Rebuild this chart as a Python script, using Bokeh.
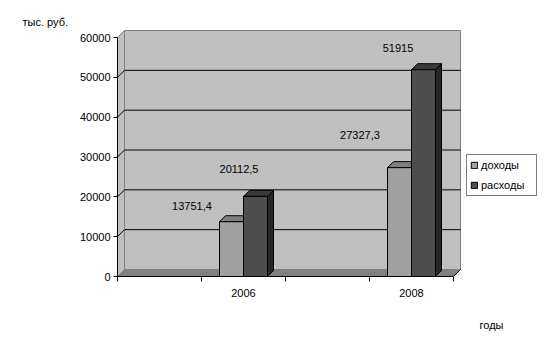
from bokeh.plotting import figure
from bokeh.models import Range1d, FixedTicker, ColumnDataSource, Legend, LegendItem, Title
from bokeh.embed import file_html
from bokeh.resources import INLINE
from bokeh.core.properties import value

# ---------------- data ----------------
years = [2006, 2008]
incomes = [13751.4, 27327.3]      # доходы
expenses = [20112.5, 51915.0]     # расходы
series_names = ["доходы", "расходы"]
y_ticks = [0, 10000, 20000, 30000, 40000, 50000, 60000]
category_edges = [2004.5, 2005.5, 2006.5, 2007.5, 2008.5]
y_title = "тыс. руб."
x_title = "годы"

# ---------------- layout constants (px) ----------------
W, H = 545, 353
FL, FR, FT, FB = 117, 545, 29, 276
CAT_PX = 84
Y_PX = 239
DEPTH = 7
BAR_DEPTH = 6
BAR_PX = 24
FONT = "Liberation Sans"
FS = "11px"

y_max = y_ticks[-1]
x0, x1 = category_edges[0], category_edges[-1]
fw, fh = FR - FL, FB - FT


def dx(n):
    return n / CAT_PX


def dy(n):
    return n * y_max / Y_PX


p = figure(width=W, height=H, x_range=Range1d(x0, x0 + fw / CAT_PX),
           y_range=Range1d(0, y_max * fh / Y_PX),
           output_backend="svg", toolbar_location=None,
           min_border_left=FL, min_border_right=W - FR,
           min_border_top=FT, min_border_bottom=H - FB)
p.outline_line_color = None
p.xgrid.visible = False
p.ygrid.visible = False
p.background_fill_color = "white"
p.border_fill_color = "white"

DX, DY = dx(DEPTH), dy(DEPTH)
WALL = "#c0c0c0"
EDGE = "#808080"

# side wall
p.patch([x0, x0, x0 + DX, x0 + DX], [0, y_max, y_max + DY, DY],
        fill_color=WALL, line_color=EDGE, line_width=1)
# back wall
p.quad(left=[x0 + DX], right=[x1 + DX], bottom=[DY], top=[y_max + DY],
       fill_color=WALL, line_color=EDGE, line_width=1)
# floor
p.patch([x0, x0 + DX, x1 + DX, x1], [0, DY, DY, 0],
        fill_color="#808080", line_color=EDGE, line_width=1)
p.line([x1, x1 + DX], [0, DY], line_color="black", line_width=1)

# gridlines on walls
gxs, gys = [], []
for v in y_ticks[1:-1]:
    gxs.append([x0, x0 + DX, x1 + DX])
    gys.append([v, v + DY, v + DY])
p.multi_line(gxs, gys, line_color="black", line_width=1)

# ---------------- bars ----------------
BW = dx(BAR_PX)
BDX, BDY = dx(BAR_DEPTH), dy(BAR_DEPTH)
styles = [
    dict(front="#a0a0a0", top="#7f7f7f", side="#6a6a6a"),
    dict(front="#4d4d4d", top="#3a3a3a", side="#262626"),
]
front_renderers = []
for si, vals in enumerate([incomes, expenses]):
    lefts = [y - BW + si * BW for y in years]
    rights = [l + BW for l in lefts]
    st = styles[si]
    side_xs = [[r, r, r + BDX, r + BDX] for r in rights]
    side_ys = [[0, v, v + BDY, BDY] for v in vals]
    p.patches(side_xs, side_ys, fill_color=st["side"], line_color="black", line_width=1)
    top_xs = [[l, l + BDX, r + BDX, r] for l, r in zip(lefts, rights)]
    top_ys = [[v, v + BDY, v + BDY, v] for v in vals]
    p.patches(top_xs, top_ys, fill_color=st["top"], line_color="black", line_width=1)
    fr = p.quad(left=lefts, right=rights, bottom=[0] * len(vals), top=vals,
                fill_color=st["front"], line_color="black", line_width=1)
    front_renderers.append(fr)

# ---------------- value labels ----------------
lab_x, lab_y, lab_t = [], [], []
for si, vals in enumerate([incomes, expenses]):
    for y, v in zip(years, vals):
        lab_x.append(y - BW / 2 + si * BW)
        lab_y.append(v)
        lab_t.append(f"{v:g}".replace(".", ","))
# excel's 3-D label placement (px offsets)
lab_xo = [-39.5, -39.5, -16.5, -25.5]
lab_yo = [-16, -33, -27, -22]
src = ColumnDataSource(dict(x=lab_x, y=lab_y, t=lab_t, xo=lab_xo, yo=lab_yo))
p.text(x="x", y="y", text="t", x_offset="xo", y_offset="yo", source=src,
       text_font=value(FONT), text_font_size=FS, text_color="black",
       text_align="center", text_baseline="middle")

# ---------------- axes ----------------
ya = p.yaxis[0]
ya.ticker = FixedTicker(ticks=y_ticks)
ya.bounds = (0, y_max)
ya.major_tick_out = 4
ya.major_tick_in = 0
ya.minor_tick_out = 0
ya.minor_tick_in = 0
ya.major_label_standoff = 3
ya.axis_line_color = "black"
ya.major_tick_line_color = "black"
ya.major_label_text_font = FONT
ya.major_label_text_font_size = FS
ya.major_label_text_color = "black"

xa = p.xaxis[0]
xa.ticker = FixedTicker(ticks=years, minor_ticks=category_edges)
xa.bounds = (x0, x1)
xa.major_tick_out = 0
xa.major_tick_in = 0
xa.minor_tick_out = 5
xa.minor_tick_in = 0
xa.minor_tick_line_color = "black"
xa.major_label_standoff = 7
xa.axis_line_color = "black"
xa.major_label_overrides = {y: str(y) for y in years}
xa.major_label_text_font = FONT
xa.major_label_text_font_size = FS
xa.major_label_text_color = "black"

# ---------------- titles ----------------
p.add_layout(Title(text=y_title, align="left", offset=22 - FL, standoff=4,
                   text_font=FONT, text_font_size=FS, text_font_style="normal",
                   text_color="black"), "above")
p.add_layout(Title(text=x_title, align="right", offset=FR - 503, standoff=36,
                   vertical_align="middle",
                   text_font=FONT, text_font_size=FS, text_font_style="normal",
                   text_color="black"), "below")

# ---------------- legend ----------------
legend = Legend(items=[LegendItem(label=n, renderers=[r])
                       for n, r in zip(series_names, front_renderers)],
                location=(466 - FL, FB - 196), orientation="vertical",
                border_line_color="black", border_line_width=1,
                background_fill_color="white", background_fill_alpha=1,
                padding=3, spacing=6, margin=0, label_height=14,
                glyph_height=8, glyph_width=8, label_standoff=3,
                label_width=52,
                label_text_font=FONT, label_text_font_size=FS,
                label_text_color="black")
p.add_layout(legend, "center")

open("out.html", "w").write(file_html(p, INLINE))
